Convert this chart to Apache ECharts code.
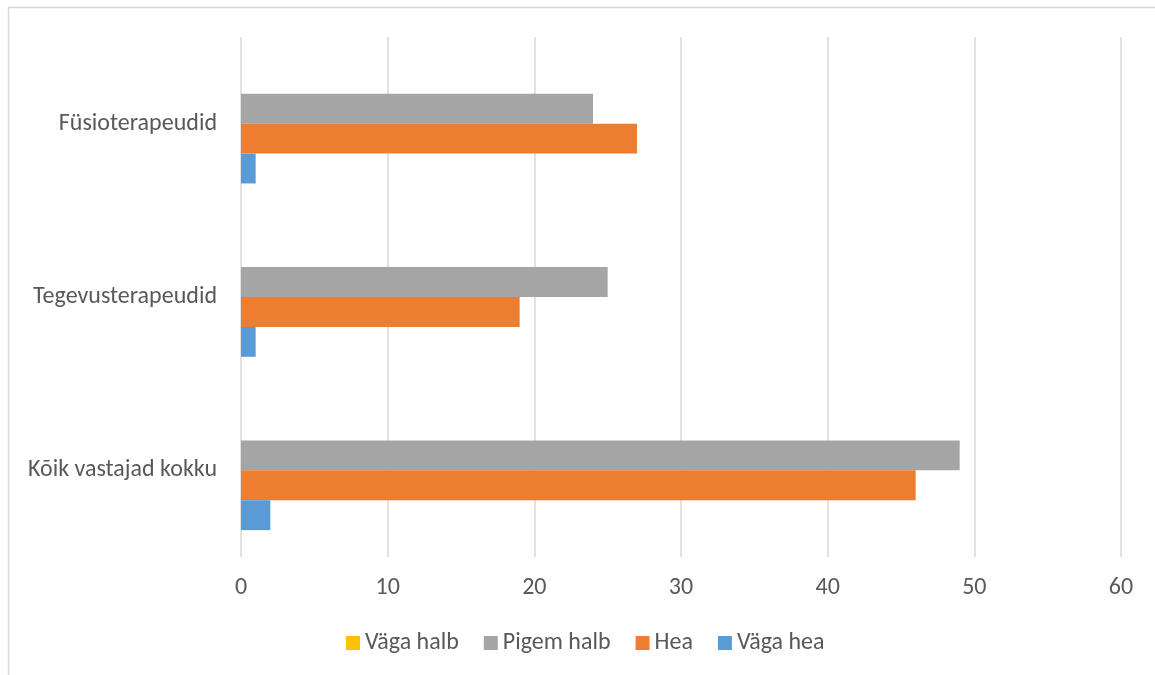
<!DOCTYPE html>
<html>
<head>
<meta charset="utf-8">
<style>
  html, body { margin: 0; padding: 0; background: #fff; }
  #chart { width: 1155px; height: 675px; }
</style>
<script src="https://cdn.jsdelivr.net/npm/echarts@6/dist/echarts.min.js"></script>
</head>
<body>
<div id="chart"></div>
<script>
// Categories, bottom to top
const categories = ['Kõik vastajad kokku', 'Tegevusterapeudid', 'Füsioterapeudid'];

// Responses per group
const vagaHalb  = [0, 0, 0];
const pigemHalb = [49, 25, 24];
const hea       = [46, 19, 27];
const vagaHea   = [2, 1, 1];

const xTicks = [0, 10, 20, 30, 40, 50, 60];

const font = 'Carlito, "Open Sans", Lato, sans-serif';
const textColor = '#595959';

const chart = echarts.init(document.getElementById('chart'), null, { renderer: 'canvas' });

function barSeries(name, data, color) {
  return {
    name: name,
    type: 'bar',
    data: data,
    barGap: '0%',
    barCategoryGap: '31%',
    itemStyle: { color: color },
    emphasis: { disabled: true }
  };
}

chart.setOption({
  animation: false,
  backgroundColor: '#fff',
  graphic: [{
    type: 'rect',
    shape: { x: 8.5, y: 7.5, width: 1180, height: 700 },
    style: { fill: 'none', stroke: '#d9d9d9', lineWidth: 1.5 },
    silent: true
  }],
  grid: { left: 241, right: 34, top: 37, bottom: 118, containLabel: false },
  legend: {
    bottom: 20,
    left: 346,
    padding: 0,
    itemWidth: 14,
    itemHeight: 14,
    itemGap: 25,
    icon: 'rect',
    data: ['Väga halb', 'Pigem halb', 'Hea', 'Väga hea'],
    textStyle: { fontFamily: font, fontSize: 24, color: textColor }
  },
  xAxis: {
    type: 'value',
    min: xTicks[0],
    max: xTicks[xTicks.length - 1],
    interval: 10,
    axisLine: { show: false },
    axisTick: { show: false },
    splitLine: { show: true, lineStyle: { color: '#d9d9d9', width: 1.5 } },
    axisLabel: { fontFamily: font, fontSize: 24, color: textColor, margin: 19 }
  },
  yAxis: {
    type: 'category',
    data: categories,
    axisLine: { show: false },
    axisTick: { show: false },
    axisLabel: { fontFamily: font, fontSize: 24, color: textColor, margin: 24 }
  },
  series: [
    barSeries('Väga halb', vagaHalb, '#ffc000'),
    barSeries('Pigem halb', pigemHalb, '#a5a5a5'),
    barSeries('Hea', hea, '#ed7d31'),
    barSeries('Väga hea', vagaHea, '#5b9bd5')
  ]
});
</script>
</body>
</html>
